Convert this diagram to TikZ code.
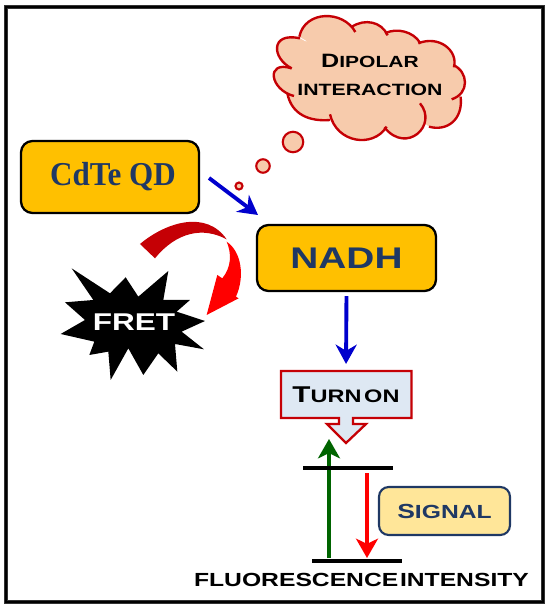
\documentclass[tikz,border=0pt]{standalone}
\usepackage{fontspec}
\setmainfont[FakeStretch=0.93]{Liberation Serif}
\setsansfont[FakeStretch=1.3]{Liberation Sans}
\usetikzlibrary{arrows.meta}
\definecolor{boxgold}{RGB}{255,192,0}
\definecolor{boxnavy}{RGB}{31,56,100}
\definecolor{cloudpeach}{RGB}{247,203,172}
\definecolor{clouddred}{RGB}{197,0,5}
\definecolor{calloutblue}{RGB}{222,232,243}
\definecolor{signalyellow}{RGB}{255,230,153}
\definecolor{pathblue}{RGB}{0,0,205}
\definecolor{levelgreen}{RGB}{0,100,0}
\newcommand{\capsize}[2]{{\fontsize{#1}{#1}\selectfont #2}}
\newcommand{\bumplist}[1]{%
  #1{(125,205) .. controls (65,175) and (60,95) .. (150,115)}
  #1{(148,110) .. controls (165,30) and (280,30) .. (316,96)}
  #1{(306,80) .. controls (345,55) and (395,65) .. (413,106)}
  #1{(405,100) .. controls (440,82) and (490,95) .. (510,128)}
  #1{(505,130) .. controls (565,105) and (625,150) .. (612,202)}
  #1{(610,195) .. controls (655,215) and (660,280) .. (605,298)}
  #1{(632,290) .. controls (640,360) and (590,395) .. (537,380)}
  #1{(510,310) .. controls (565,375) and (470,465) .. (403,382)}
  #1{(410,380) .. controls (370,445) and (260,430) .. (240,343)}
  #1{(240,360) .. controls (180,365) and (125,345) .. (112,280)}
  #1{(132,288) .. controls (60,270) and (45,180) .. (125,205)}
}
\newcommand{\bumpfill}[1]{\fill[cloudpeach] #1 -- (350,230) -- cycle;}
\newcommand{\bumpline}[1]{\draw[clouddred,line width=1.35pt] #1;}
\tikzset{
  goldbox/.style={draw=black,fill=boxgold,line width=1.3pt,rounded corners=6.5pt,text=boxnavy},
  flow/.style={-{Stealth[length=11pt,width=12pt,inset=3.5pt]},pathblue,line width=2.2pt},
  level/.style={black,line width=2.8pt},
  bubble/.style={circle,draw=clouddred,fill=cloudpeach,inner sep=0pt},
}
\begin{document}
\begin{tikzpicture}[x=0.02cm,y=-0.02cm]
  \useasboundingbox (0,0) rectangle (550,609);
  \draw[black!80,line width=2.4pt] (6,7) rectangle (543,602);
  \draw[black,line width=1.6pt] (6,7) rectangle (543,602);

  % cloud
  \begin{scope}[shift={(250,0)},scale=0.3333]
    \fill[cloudpeach] (125,205) -- (160,125) -- (316,105) -- (410,110) -- (505,135) -- (605,205) -- (610,290) -- (537,370) -- (410,375) -- (245,350) -- (125,285) -- cycle;
    \bumplist{\bumpfill}
    \bumplist{\bumpline}
  \end{scope}
  \node[font=\sffamily\bfseries,align=center,inner sep=0pt,text=black] (dipolar) at (370,75) {\capsize{11}{D}\capsize{9.2}{IPOLAR}\\[3.5pt]\capsize{9.3}{INTERACTION}};
  \node[bubble,line width=1.2pt,minimum size=0.41cm] (bubblea) at (293,142) {};
  \node[bubble,line width=1.2pt,minimum size=0.27cm] (bubbleb) at (263,166) {};
  \node[bubble,line width=1.2pt,minimum size=0.14cm] (bubblec) at (239,186) {};

  % boxes
  \node[goldbox,minimum width=3.56cm,minimum height=1.44cm,font=\rmfamily\bfseries\fontsize{19}{19}\selectfont] (cdte) at (110,177) {\kern3.4pt CdTe QD};
  \node[goldbox,minimum width=3.58cm,minimum height=1.32cm,font=\sffamily\bfseries\fontsize{17}{17}\selectfont] (nadh) at (346.5,258) {NADH};
  \coordinate (cdteout) at (209,178);
  \coordinate (nadhin) at (258,215);
  \draw[flow] (cdteout) -- (nadhin);

  % curved arrow
  \begin{scope}[shift={(0,120)},scale=0.3333]
    \fill[clouddred] (420,372) .. controls (500,305) and (620,270) .. (680,358) .. controls (610,320) and (530,335) .. (465,415) -- cycle;
    \fill[red] (680,365) .. controls (725,395) and (735,470) .. (708,530) -- (716,535) -- (620,585) -- (652,465) -- (667,475) .. controls (695,440) and (695,400) .. (680,365) -- cycle;
    \fill[black] (215,445) -- (330,520) -- (377,472) -- (415,530) -- (505,453) -- (490,540) -- (570,540) -- (530,575) -- (615,603) -- (545,635) -- (612,688) -- (525,672) -- (532,755) -- (475,700) -- (430,765) -- (385,685) -- (332,780) -- (325,695) -- (268,705) -- (283,665) -- (182,642) -- (255,600) -- (195,547) -- (280,540) -- cycle;
  \end{scope}
  \node[font=\sffamily\bfseries\fontsize{13.8}{13.8}\selectfont,text=white,inner sep=0pt] (fret) at (134,322) {FRET};

  % turn on callout
  \draw[clouddred,fill=calloutblue,line width=1.3pt] (281,371) -- (411.5,371) -- (411.5,418) -- (353,418) -- (353,424) -- (366,424) -- (346,443) -- (327,424) -- (339,424) -- (339,418) -- (281,418) -- cycle;
  \node[font=\sffamily\bfseries,inner sep=0pt,text=black] (turnon) at (346,395) {\capsize{13}{T}\capsize{10.3}{URN\kern1.5pt ON}};
  \coordinate (calltop) at (346,371);
  \draw[flow,shorten <=2.3pt,shorten >=4pt] (nadh.south) -- (calltop);

  % levels
  \coordinate (upperl) at (303,468);
  \coordinate (upperr) at (393,468);
  \coordinate (lowerl) at (312,561);
  \coordinate (lowerr) at (402,561);
  \coordinate (greenup) at (329,439);
  \coordinate (greenlow) at (329,558);
  \coordinate (redup) at (367,473);
  \coordinate (redlow) at (367,558);
  \draw[levelgreen,line width=2.6pt,-{Stealth[length=11pt,width=12.5pt,inset=3pt]}] (greenlow) -- (greenup);
  \draw[red,line width=2.3pt,-{Stealth[length=11pt,width=12.5pt,inset=3pt]}] (redup) -- (redlow);
  \draw[level] (upperl) -- (upperr);
  \draw[level] (lowerl) -- (lowerr);

  \node[draw=boxnavy,fill=signalyellow,line width=1.2pt,rounded corners=5.5pt,minimum width=2.62cm,minimum height=0.96cm,font=\sffamily\bfseries,text=boxnavy] (signal) at (444.5,511) {\capsize{11.6}{S}\capsize{10.8}{IGNAL}};
  \node[font=\sffamily\bfseries,inner sep=0pt,text=black] (fluor) at (361.5,580) {\capsize{10.8}{FLUORESCENCE\kern1pt INTENSITY}};
\end{tikzpicture}
\end{document}
